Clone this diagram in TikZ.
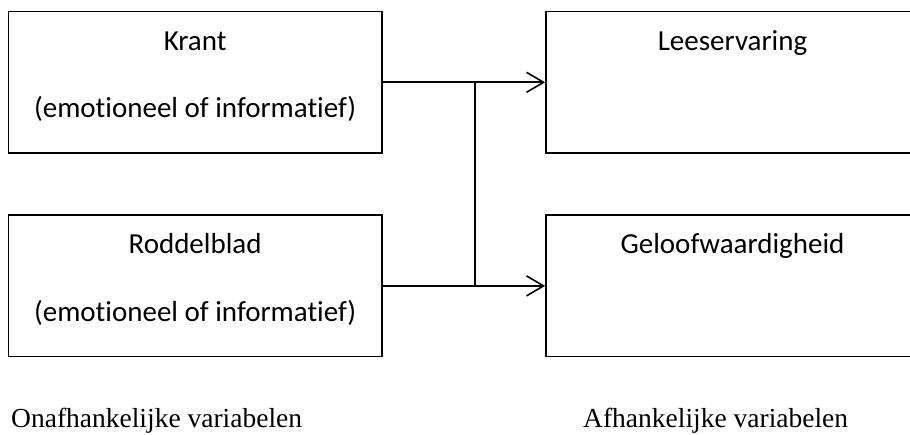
\documentclass[tikz,border=0pt]{standalone}
\usepackage{fontspec}
\setmainfont[Ligatures=CommonOff]{Carlito}
\newfontfamily\tnr{Liberation Serif}
\usetikzlibrary{arrows.meta}
\begin{document}
\begin{tikzpicture}[x=1pt,y=-1pt,
  varbox/.style={draw=black,line width=1.6pt,rectangle,minimum width=373.2pt,minimum height=141.5pt,inner sep=0pt},
  boxtext/.style={anchor=base,inner sep=0pt,font=\fontsize{29}{34}\selectfont},
  captext/.style={anchor=base west,inner sep=0pt,font=\tnr\fontsize{27.5}{33}\selectfont},
  conn/.style={line width=1.6pt},
  arr/.style={conn,-{Straight Barb[length=17pt,width=20pt,line width=1.6pt]}}]
\useasboundingbox (0,0) rectangle (910,435);
\clip (0,0) rectangle (910,435);
% boxes
\node[varbox] (krant) at (195.1,82.3) {};
\node[varbox] (rod) at (195.1,285.9) {};
\node[varbox] (lees) at (732.5,82.3) {};
\node[varbox] (gel) at (732.5,285.9) {};
% texts
\node[boxtext] (t1) at (195.1,50.7) {Krant};
\node[boxtext] (t2) at (195.1,118) {(emotioneel of informatief)};
\node[boxtext] (t3) at (195.1,253.3) {Roddelblad};
\node[boxtext] (t4) at (195.1,321.7) {(emotioneel of informatief)};
\node[boxtext] (t5) at (732.5,50.3) {Leeservaring};
\node[boxtext] (t6) at (732.5,253.3) {Geloofwaardigheid};
% captions
\node[captext] (c1) at (11,427) {Onafhankelijke variabelen};
\node[captext] (c2) at (583,427) {Afhankelijke variabelen};
% connectors
\coordinate (j1) at (475,82.3);
\coordinate (j2) at (475,285.9);
\draw[arr] (krant.east) -- (lees.west);
\draw[arr] (rod.east) -- (gel.west);
\draw[conn] (j1) -- (j2);
\end{tikzpicture}
\end{document}
